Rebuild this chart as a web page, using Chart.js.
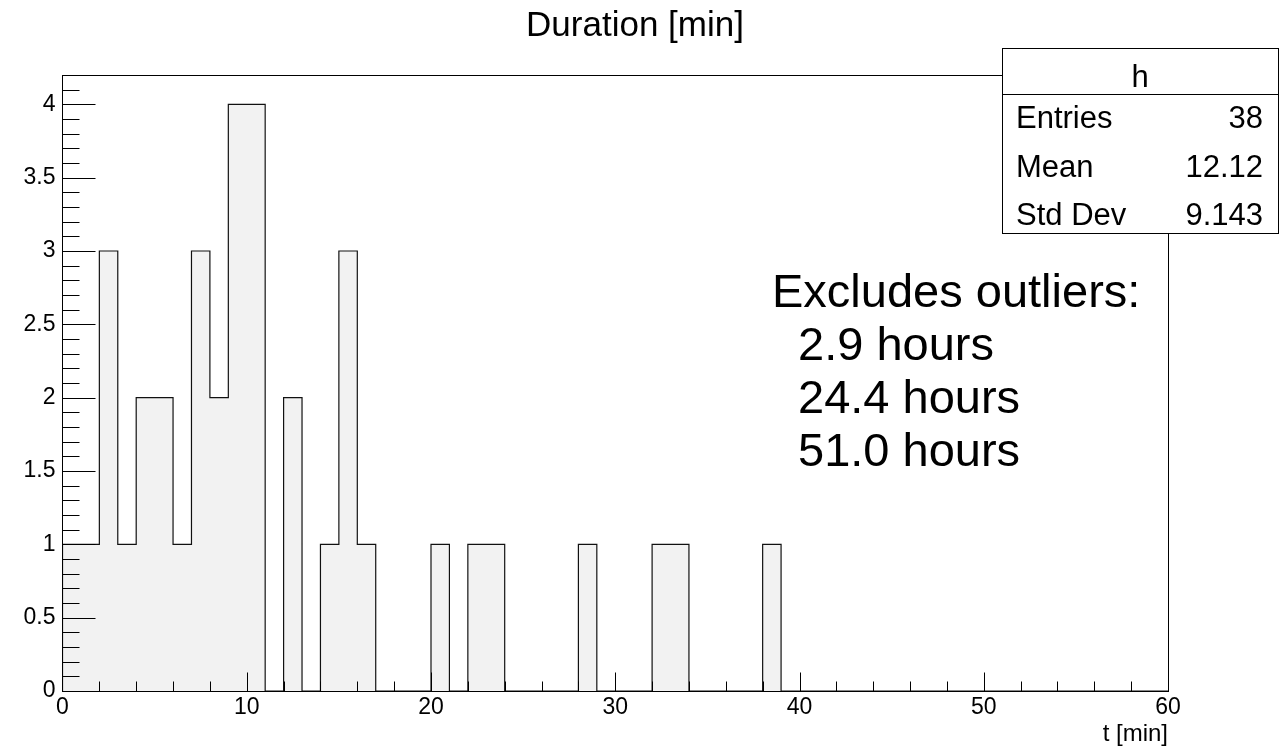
<!DOCTYPE html>
<html>
<head>
<meta charset="utf-8">
<script src="https://cdn.jsdelivr.net/npm/chart.js@4"></script>
<style>
html,body{margin:0;padding:0;background:#fff;}
#wrap{position:relative;width:1281px;height:746px;}
</style>
</head>
<body>
<div id="wrap"><canvas id="c"></canvas></div>
<script>
// ---- data (1-minute bins, 0..60 min) ----
const binCounts = [
  1,1,3,1,2,2,1,3,2,4,
  4,0,2,0,1,3,1,0,0,0,
  1,0,1,1,0,0,0,0,1,0,
  0,0,1,1,0,0,0,0,1,0,
  0,0,0,0,0,0,0,0,0,0,
  0,0,0,0,0,0,0,0,0,0
];
const binWidth = 1;
const xMin = 0, xMax = 60;
const yMin = 0, yMax = 4.2;
const xTickValues = [0,10,20,30,40,50,60];
const yTickValues = [0,0.5,1,1.5,2,2.5,3,3.5,4];
const titleText = "Duration [min]";
const xAxisTitle = "t [min]";
const statsName = "h";
const statsLabels = ["Entries","Mean","Std Dev"];
const statsValues = ["38","12.12","9.143"];
const noteLines = ["Excludes outliers:","  2.9 hours","  24.4 hours","  51.0 hours"];

const FONT = "'Liberation Sans', Arial, Helvetica, sans-serif";

// step outline points (left bin edges), closed down to zero at both ends
const stepPoints = [{x:xMin, y:0}]
  .concat(binCounts.map((c,i)=>({x:xMin + i*binWidth, y:c})))
  .concat([{x:xMin + binCounts.length*binWidth, y:0}]);

const rootDecor = {
  id:'rootDecor',
  afterDatasetsDraw(chart){
    const {ctx, chartArea:a, scales:{x, y}} = chart;
    ctx.save();
    ctx.strokeStyle = '#000';
    ctx.lineWidth = 1;
    const L = Math.floor(a.left)+0.5, R = Math.floor(a.right)+0.5;
    const T = Math.floor(a.top)+0.5, B = Math.floor(a.bottom)+0.5;
    // frame
    ctx.strokeRect(L, T, R-L, B-T);
    // y ticks: major every 0.5, minor every 0.1
    ctx.beginPath();
    for(let k=1;k<=Math.floor(yMax*10+1e-6);k++){
      const v = k/10;
      const py = Math.round(y.getPixelForValue(v))+0.5;
      const len = (k%5===0) ? 33 : 17;
      ctx.moveTo(L, py); ctx.lineTo(L+len, py);
    }
    // x ticks: major every 10, minor every 2
    for(let v=xMin+2; v<xMax; v+=2){
      const px = Math.round(x.getPixelForValue(v))+0.5;
      const len = (v%10===0) ? 19 : 10;
      ctx.moveTo(px, B); ctx.lineTo(px, B-len);
    }
    ctx.stroke();
    ctx.restore();
  },
  afterDraw(chart){
    const {ctx} = chart;
    ctx.save();
    ctx.fillStyle = '#000';
    // title
    ctx.font = `35px ${FONT}`;
    ctx.textAlign = 'center';
    ctx.textBaseline = 'alphabetic';
    ctx.fillText(titleText, 635, 36);
    // x axis title
    ctx.font = `24px ${FONT}`;
    ctx.textAlign = 'right';
    ctx.fillText(xAxisTitle, 1168, 741);
    // annotation
    ctx.font = `47px ${FONT}`;
    ctx.textAlign = 'left';
    noteLines.forEach((t,i)=>{
      ctx.fillText(t.replace(/^ +/, ''), 772 + (t.match(/^ */)[0].length)*13, 307 + i*53);
    });
    // stats box
    ctx.fillStyle = '#fff';
    ctx.fillRect(1002.5, 48.5, 276, 185);
    ctx.strokeStyle = '#000';
    ctx.lineWidth = 1;
    ctx.strokeRect(1002.5, 48.5, 276, 185);
    ctx.beginPath(); ctx.moveTo(1002.5, 94.5); ctx.lineTo(1278.5, 94.5); ctx.stroke();
    ctx.fillStyle = '#000';
    ctx.font = `31px ${FONT}`;
    ctx.textAlign = 'center';
    ctx.fillText(statsName, 1140, 87);
    statsLabels.forEach((lab,i)=>{
      const by = 128 + i*48.5;
      ctx.textAlign = 'left';
      ctx.fillText(lab, 1016, by);
      ctx.textAlign = 'right';
      ctx.fillText(statsValues[i], 1263, by);
    });
    ctx.restore();
  }
};

new Chart(document.getElementById('c'), {
  type:'line',
  data:{
    datasets:[{
      data: stepPoints,
      stepped:'before',
      fill:'origin',
      backgroundColor:'#f2f2f2',
      borderColor:'#111',
      borderWidth:1.2,
      pointRadius:0,
      tension:0
    }]
  },
  options:{
    responsive:true,
    maintainAspectRatio:false,
    animation:false,
    layout:{padding:{top:75,right:113,left:0,bottom:0}},
    plugins:{legend:{display:false}, tooltip:{enabled:false}, title:{display:false}},
    scales:{
      x:{
        type:'linear', min:xMin, max:xMax,
        afterBuildTicks(s){ s.ticks = xTickValues.map(v=>({value:v})); },
        afterFit(s){ s.height = 55; s.paddingLeft = 0; s.paddingRight = 0; },
        grid:{display:false, drawTicks:false},
        border:{display:false},
        ticks:{font:{family:FONT, size:23}, color:'#000', padding:3, maxRotation:0, autoSkip:false, callback:v=>String(v)}
      },
      y:{
        type:'linear', min:yMin, max:yMax,
        afterBuildTicks(s){ s.ticks = yTickValues.map(v=>({value:v})); },
        afterFit(s){ s.width = 62.5; s.paddingTop = 0; s.paddingBottom = 0; },
        grid:{display:false, drawTicks:false},
        border:{display:false},
        ticks:{font:{family:FONT, size:23}, color:'#000', padding:7, autoSkip:false, callback:v=>String(v)}
      }
    }
  },
  plugins:[rootDecor]
});
</script>
</body>
</html>
